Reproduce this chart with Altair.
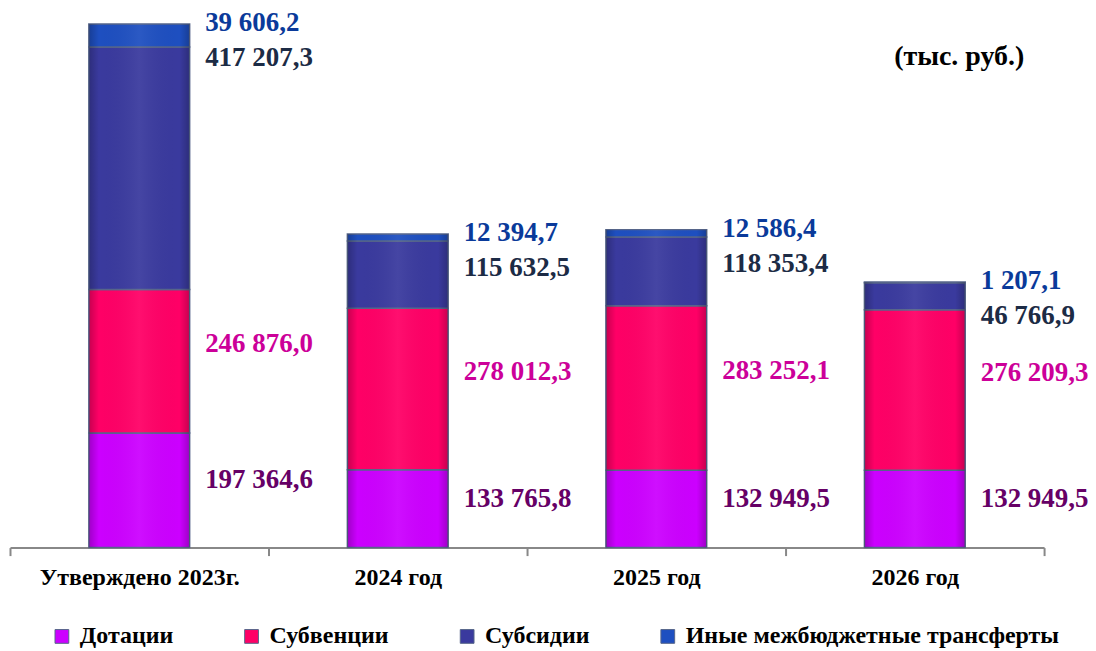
import altair as alt
import pandas as pd

categories = ["Утверждено 2023г.", "2024 год", "2025 год", "2026 год"]
series = ["Дотации", "Субвенции", "Субсидии", "Иные межбюджетные трансферты"]
dotacii = [197364.6, 133765.8, 132949.5, 132949.5]
subvencii = [246876.0, 278012.3, 283252.1, 276209.3]
subsidii = [417207.3, 115632.5, 118353.4, 46766.9]
inye = [39606.2, 12394.7, 12586.4, 1207.1]

bar_colors = ["#CC00FF", "#FF0066", "#3A3A9E", "#1E4FC0"]
label_colors = ["#660066", "#CC0099", "#1C2B45", "#0A3A9A"]

values = [dotacii, subvencii, subsidii, inye]
rows = []
for ci, cat in enumerate(categories):
    base = 0.0
    total = sum(v[ci] for v in values)
    for si, s in enumerate(series):
        v = values[si][ci]
        rows.append({
            "cat": cat, "series": s, "order": si, "value": v,
            "y0": base, "y1": base + v, "mid": base + v / 2, "total": total,
            "label": format(v, ",.1f").replace(",", " ").replace(".", ","),
        })
        base += v
df = pd.DataFrame(rows)

FONT = "Liberation Serif, Times New Roman, DejaVu Serif, serif"

x_enc = alt.X("cat:N", sort=categories, title=None,
              scale=alt.Scale(paddingInner=0, paddingOuter=0),
              axis=alt.Axis(labelAngle=0, labelFont=FONT, labelFontSize=24,
                            labelFontWeight="bold", labelColor="#000000",
                            labelPadding=10, labelLimit=400,
                            domainColor="#888888", domainWidth=2,
                            tickColor="#888888", tickWidth=2, tickSize=8,
                            tickBand="extent", grid=False))

y_scale = alt.Scale(domain=[0, 900000])

bars = alt.Chart(df).mark_bar(size=101, stroke="#56658A", strokeWidth=1.5).encode(
    x=x_enc,
    y=alt.Y("y0:Q", scale=y_scale, axis=None),
    y2="y1:Q",
    color=alt.Color("series:N", sort=series,
                    scale=alt.Scale(domain=series, range=bar_colors),
                    legend=alt.Legend(title=None, orient="none", direction="horizontal",
                                      legendX=40, legendY=601,
                                      symbolType="square", symbolSize=190,
                                      symbolStrokeColor="#56658A", symbolStrokeWidth=1,
                                      labelFont=FONT, labelFontSize=24,
                                      labelFontWeight="bold", labelColor="#000000",
                                      columnPadding=66, labelOffset=6,
                                      labelLimit=600)),
)

shade = alt.Chart(df).mark_bar(
    size=101,
    color=alt.LinearGradient(
        gradient="linear", x1=0, x2=1, y1=0, y2=0,
        stops=[alt.GradientStop(color="rgba(0,0,0,0.22)", offset=0),
               alt.GradientStop(color="rgba(0,0,0,0)", offset=0.1),
               alt.GradientStop(color="rgba(255,255,255,0.06)", offset=0.5),
               alt.GradientStop(color="rgba(0,0,0,0)", offset=0.9),
               alt.GradientStop(color="rgba(0,0,0,0.22)", offset=1)]),
).encode(x=alt.X("cat:N", sort=categories), y=alt.Y("y0:Q", scale=y_scale), y2="y1:Q")

layers = [bars, shade]
label_specs = [
    (series[0], "mid", -10, label_colors[0]),
    (series[1], "mid", -17, label_colors[1]),
    (series[2], "total", 34, label_colors[2]),
    (series[3], "total", -1, label_colors[3]),
]
for s, field, dy, col in label_specs:
    t = alt.Chart(df).transform_filter(alt.datum.series == s).mark_text(
        align="left", baseline="middle", dx=66, dy=dy, font=FONT,
        fontSize=27, fontWeight="bold", color=col,
    ).encode(x=alt.X("cat:N", sort=categories), y=alt.Y(f"{field}:Q", scale=y_scale), text="label:N")
    layers.append(t)

unit = alt.Chart(pd.DataFrame({"t": ["(тыс. руб.)"]})).mark_text(
    align="center", baseline="middle", font=FONT, fontSize=28, fontWeight="bold", color="#000000"
).encode(x=alt.value(951), y=alt.value(33), text="t:N")
layers.append(unit)

chart = alt.layer(*layers).properties(
    width=1036, height=524,
    padding={"left": 2, "top": 16, "right": 44, "bottom": 102},
    autosize=alt.AutoSizeParams(type="none"),
).configure_view(stroke=None)

chart.save("out.html", embed_options={"renderer": "svg", "actions": False})
